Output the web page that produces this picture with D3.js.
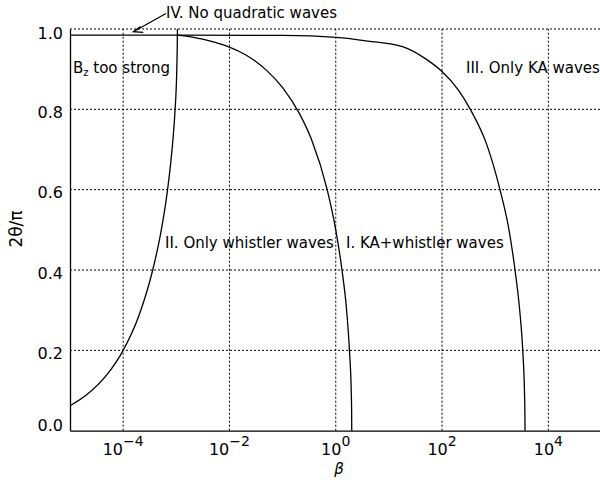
<!DOCTYPE html>
<html>
<head>
<meta charset="utf-8">
<style>
  body { margin: 0; background: #fff; }
  svg text { font-family: "DejaVu Sans", sans-serif; fill: #000; }
  .grid line { stroke: #000; stroke-width: 1; stroke-dasharray: 2,2; }
  .curve { fill: none; stroke: #000; stroke-width: 1.3; }
  .axis path { stroke: #000; stroke-width: 1.3; }
</style>
<script src="https://cdn.jsdelivr.net/npm/d3@7"></script>
</head>
<body>
<svg width="600" height="480"></svg>
<script>

var xTicks = [1e-4, 1e-2, 1, 1e2, 1e4];
var xTickExp = ["\u22124", "\u22122", "0", "2", "4"];
var yTicks = [0, 0.2, 0.4, 0.6, 0.8, 1.0];

// boundary where B_z gets too strong (beta, 2theta/pi)
var bzLimit = [
  [1e-5, 0.062], [2e-5, 0.088], [5e-5, 0.140], [1e-4, 0.200], [2e-4, 0.288],
  [3.6e-4, 0.400], [5e-4, 0.486], [6.85e-4, 0.600], [8.5e-4, 0.714],
  [9.5e-4, 0.800], [1.02e-3, 0.897], [1.045e-3, 0.971], [1.05e-3, 1.0]
];

// whistler / KA+whistler boundary
var whistlerLimit = [
  [1.05e-3, 0.985], [2e-3, 0.980], [5e-3, 0.968], [1e-2, 0.955], [2e-2, 0.936],
  [3e-2, 0.921], [5e-2, 0.897], [0.1, 0.854], [0.21, 0.788], [0.35, 0.725],
  [0.69, 0.600], [1.0, 0.500], [1.31, 0.400], [1.6, 0.300], [1.81, 0.200],
  [1.96, 0.094], [1.99, 0.047], [2.0, 0.0]
];

// KA / KA+whistler boundary
var kaLimit = [
  [1e-5, 0.985], [1e-3, 0.985], [0.1, 0.984], [1, 0.979], [4, 0.970],
  [18, 0.956], [50, 0.925], [100, 0.894], [200, 0.849], [340, 0.800],
  [700, 0.711], [1230, 0.600], [1800, 0.503], [2360, 0.400], [2900, 0.298],
  [3300, 0.200], [3560, 0.094], [3620, 0.047], [3640, 0.0]
];

var svg = d3.select("svg");

var x = d3.scaleLog().domain([1e-5, 1e5]).range([70, 601.5]);
var y = d3.scaleLinear().domain([0, 1]).range([430.7, 29]);

// grid
var grid = svg.append("g").attr("class", "grid");
grid.selectAll(".h").data(yTicks.filter(function(d) { return d > 0; }))
  .enter().append("line")
    .attr("x1", x.range()[0]).attr("x2", x.range()[1])
    .attr("y1", y).attr("y2", y);
grid.selectAll(".v").data(xTicks)
  .enter().append("line")
    .attr("x1", x).attr("x2", x)
    .attr("y1", y.range()[0]).attr("y2", y.range()[1]);

// axes
svg.append("g").attr("class", "axis")
    .attr("transform", "translate(0," + y(0) + ")")
    .call(d3.axisBottom(x).tickValues([]).tickSizeOuter(0));
svg.append("g").attr("class", "axis")
    .attr("transform", "translate(" + x.range()[0] + ",0)")
    .call(d3.axisLeft(y).tickValues(yTicks).tickSize(0).tickPadding(7)
      .tickFormat(d3.format(".1f")))
  .call(function(g) {
    g.selectAll("text")
      .style("font-size", "16px")
      .attr("dy", function(d) { return d === 0 ? "-0.02em" : (d === 1 ? "0.62em" : "0.5em"); });
  });

// x tick labels with exponents
var xl = svg.append("g").selectAll("text").data(xTicks)
  .enter().append("text")
    .attr("x", x)
    .attr("y", 455)
    .attr("text-anchor", "middle")
    .style("font-size", "16px");
xl.append("tspan").text("10");
xl.append("tspan").attr("dy", -9).style("font-size", "14px")
    .text(function(d, i) { return xTickExp[i]; });

// curves
var line = d3.line()
    .x(function(d) { return x(d[0]); })
    .y(function(d) { return y(d[1]); })
    .curve(d3.curveMonotoneX);

[bzLimit, whistlerLimit, kaLimit].forEach(function(c) {
  svg.append("path").datum(c).attr("class", "curve").attr("d", line);
});

// axis titles
svg.append("text")
    .attr("x", 339).attr("y", 474)
    .attr("text-anchor", "middle")
    .style("font-size", "15px").style("font-style", "italic")
    .text("\u03b2");
svg.append("text")
    .attr("transform", "translate(22,229) rotate(-90)")
    .attr("text-anchor", "middle")
    .style("font-size", "17px")
    .text("2\u03b8/\u03c0");

// region labels
var bz = svg.append("text").attr("x", 73).attr("y", 72.5).style("font-size", "15px");
bz.append("tspan").text("B");
bz.append("tspan").attr("dy", 3).style("font-size", "10px").text("z");
bz.append("tspan").attr("dy", -3).text(" too strong");

svg.append("text").attr("x", 466).attr("y", 72.5).style("font-size", "15px")
    .text("III. Only KA waves");
svg.append("text").attr("x", 165).attr("y", 248).style("font-size", "15px")
    .text("II. Only whistler waves");
svg.append("text").attr("x", 346).attr("y", 248).style("font-size", "15px")
    .text("I. KA+whistler waves");
svg.append("text").attr("x", 166).attr("y", 17.5).style("font-size", "15px")
    .text("IV. No quadratic waves");

// arrow to region IV
svg.append("path")
    .attr("d", "M166,13.5L133.3,31.7M143.3,32.3L133.3,31.7L140.5,26.5")
    .attr("fill", "none").attr("stroke", "#000").attr("stroke-width", 1.2);

</script>
</body>
</html>
